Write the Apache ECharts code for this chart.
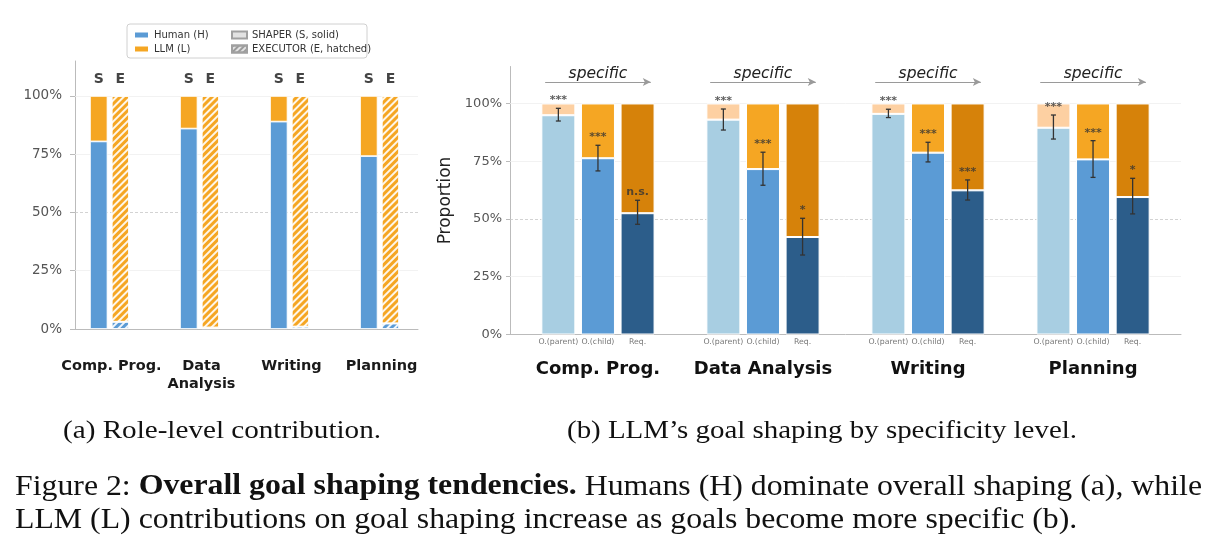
<!DOCTYPE html>
<html><head><meta charset="utf-8">
<script src="https://cdn.jsdelivr.net/npm/echarts@6/dist/echarts.min.js"></script>
<style>html,body{margin:0;padding:0;background:#fff}#c{width:1219px;height:552px}</style>
</head><body><div id="c"></div>
<script>
// ---------- (a) Role-level contribution ----------
const taskCategoriesA = ['Comp. Prog.', 'Data\nAnalysis', 'Writing', 'Planning'];
const roleTags = ['S', 'E'];
const humanShaper   = [80.5, 86.0, 89.0, 74.2];
const llmShaper     = [19.5, 14.0, 11.0, 25.8];
const humanExecutor = [3.1, 0.6, 1.0, 2.4];
const llmExecutor   = [96.9, 99.4, 99.0, 97.6];
const pctTicks = [0, 25, 50, 75, 100];

// ---------- (b) Goal shaping by specificity ----------
const taskCategoriesB = ['Comp. Prog.', 'Data Analysis', 'Writing', 'Planning'];
const levels = ['O.(parent)', 'O.(child)', 'Req.'];
const humanParent = [94.9, 93.0, 95.5, 89.5];
const humanChild  = [76.3, 71.6, 78.7, 75.8];
const humanReq    = [52.5, 42.2, 62.4, 59.5];
const llmParent = [5.1, 7.0, 4.5, 10.5];
const llmChild  = [23.7, 28.4, 21.3, 24.2];
const llmReq    = [47.5, 57.8, 37.6, 40.5];
const errLowParent  = [92.4, 88.5, 93.9, 84.6];
const errHighParent = [97.9, 97.6, 97.5, 95.0];
const errLowChild   = [70.8, 64.6, 74.7, 68.0];
const errHighChild  = [81.9, 78.9, 83.2, 83.9];
const errLowReq     = [47.7, 34.4, 58.2, 52.2];
const errHighReq    = [58.1, 50.3, 66.9, 67.6];
const sigParent = ['***', '***', '***', '***'];
const sigChild  = ['***', '***', '***', '***'];
const sigReq    = ['n.s.', '*', '***', '*'];

// ---------- styles / layout ----------
const FONT = 'DejaVu Sans';
const colH = '#5b9bd5', colL = '#f5a623';
const levelHumanColors = ['#a8cee2', '#5b9bd5', '#2c5d8a'];
const levelLlmColors   = ['#fdd0a2', '#f5a623', '#d6820a'];
const roleOffsets = [-0.12, 0.12];
const levelOffsets = [-0.24, 0, 0.24];
const hatch = { symbol: 'rect', symbolSize: 1, dashArrayX: [1, 0], dashArrayY: [1.6, 2.6], rotation: -Math.PI / 4, color: 'rgba(255,255,255,0.9)' };
const hatchLegend = { symbol: 'rect', symbolSize: 1, dashArrayX: [1, 0], dashArrayY: [1.4, 2], rotation: -Math.PI / 4, color: '#9a9a9a' };

// build (a) data  -- items are [value, position] (encode y:0, x:1)
const aHuman = [], aLlm = [];
taskCategoriesA.forEach((c, i) => {
  aHuman.push({ value: [humanShaper[i], i + roleOffsets[0]] });
  aHuman.push({ value: [humanExecutor[i], i + roleOffsets[1]], itemStyle: { decal: hatch } });
  aLlm.push({ value: [llmShaper[i], i + roleOffsets[0]] });
  aLlm.push({ value: [llmExecutor[i], i + roleOffsets[1]], itemStyle: { decal: hatch } });
});

// build (b) data
const hum = [humanParent, humanChild, humanReq];
const llm = [llmParent, llmChild, llmReq];
const lo = [errLowParent, errLowChild, errLowReq];
const hi = [errHighParent, errHighChild, errHighReq];
const sg = [sigParent, sigChild, sigReq];
const bHuman = [], bLlm = [], bErr = [], bSig = [], sigText = [], subPos = [];
taskCategoriesB.forEach((c, i) => {
  levels.forEach((l, k) => {
    const x = i + levelOffsets[k];
    subPos.push(x);
    bHuman.push({ value: [hum[k][i], x], itemStyle: { color: levelHumanColors[k] } });
    bLlm.push({ value: [llm[k][i], x], itemStyle: { color: levelLlmColors[k] } });
    bErr.push([x, lo[k][i], hi[k][i]]);
    bSig.push([x, hi[k][i]]);
    sigText.push(sg[k][i]);
  });
});

function gridLines(list) {
  return list.map(v => ({ yAxis: v, lineStyle: v === 50 ? { color: '#c8c8c8', type: [3, 2], width: 0.8 } : { color: '#efefef', type: 'solid', width: 0.8 } }));
}
const arrowLines = taskCategoriesB.map((c, i) => [
  { coord: [i - 0.32, 109.3], symbol: 'none', label: { show: true, formatter: 'specific', position: 'insideMiddleTop', distance: 0, fontFamily: FONT, fontStyle: 'italic', fontSize: 15.5, color: '#222' }, lineStyle: { color: '#9a9a9a', width: 1.2, type: 'solid' } },
  { coord: [i + 0.32, 109.3], symbol: 'arrow', symbolSize: [6, 8] }
]);

const chart = echarts.init(document.getElementById('c'), null, { renderer: 'canvas' });

// caption helpers
const mctx = document.createElement('canvas').getContext('2d');
function measure(parts, size) {
  let w = 0;
  parts.forEach(p => { mctx.font = (p[1] === 'b' ? 'bold ' : '') + size + 'px "Liberation Serif"'; w += mctx.measureText(p[0]).width; });
  return w;
}
const capSize = 25, figSize = 29;
const capA = [['(a) Role-level contribution.', 'n']];
const capB = [['(b) LLM\u2019s goal shaping by specificity level.', 'n']];
const fig1 = [['Figure 2: ', 'n'], ['Overall goal shaping tendencies.', 'b'], [' Humans ', 'n'], ['(H)', 'h'], [' dominate overall shaping (a), while', 'n']];
const fig2 = [['LLM ', 'n'], ['(L)', 'l'], [' contributions on goal shaping increase as goals become more specific (b).', 'n']];
const richText = parts => parts.map(p => '{' + p[1] + '|' + p[0] + '}').join('');
const figScale = 1187 / measure(fig1, figSize);
const rich = s => ({
  n: { fontFamily: 'Liberation Serif', fontSize: s, color: '#111' },
  b: { fontFamily: 'Liberation Serif', fontSize: s, fontWeight: 'bold', color: '#111' },
  h: { fontFamily: 'Liberation Serif', fontSize: s, color: '#2a7ab8' },
  l: { fontFamily: 'Liberation Serif', fontSize: s, color: '#f0843c' }
});
function capText(parts, size, x, y, scale) {
  return { type: 'text', x: x, y: y, scaleX: scale, style: { text: richText(parts), rich: rich(size), fontFamily: 'Liberation Serif', fontSize: size, align: 'left', verticalAlign: 'middle', fill: '#111' } };
}

const option = {
  animation: false,
  backgroundColor: '#fff',
  textStyle: { fontFamily: FONT },
  grid: [
    { left: 75, top: 61, width: 343, height: 268 },
    { left: 510, top: 66.5, width: 671, height: 268 }
  ],
  legend: [
    { data: ['Human (H)', 'LLM (L)'], orient: 'vertical', left: 128, top: 25, icon: 'rect', itemWidth: 15, itemHeight: 7, itemGap: 4, textStyle: { fontFamily: FONT, fontSize: 10, color: '#333' }, selectedMode: false },
    { data: ['SHAPER (S, solid)', 'EXECUTOR (E, hatched)'], orient: 'vertical', left: 226, top: 25, icon: 'rect', itemWidth: 15, itemHeight: 7, itemGap: 4, textStyle: { fontFamily: FONT, fontSize: 10, color: '#333' }, selectedMode: false }
  ],
  graphic: [
    { type: 'rect', z: 0, shape: { x: 127, y: 24, width: 240, height: 34, r: 3 }, style: { fill: '#fff', stroke: '#d0d0d0', lineWidth: 1 } },
    capText(capA, capSize, 63, 431, 318 / measure(capA, capSize)),
    capText(capB, capSize, 567, 431, 510 / measure(capB, capSize)),
    capText(fig1, figSize, 15, 487, figScale),
    capText(fig2, figSize, 15, 520, figScale)
  ],
  xAxis: [
    { type: 'value', gridIndex: 0, position: 'bottom', min: -0.405, max: 3.405, splitLine: { show: false },
      axisLine: { show: true, onZero: false, lineStyle: { color: '#bbb' } }, axisTick: { show: false },
      axisLabel: { customValues: [0, 1, 2, 3], formatter: v => taskCategoriesA[Math.round(v)], fontFamily: FONT, fontSize: 14.5, fontWeight: 'bold', color: '#1a1a1a', margin: 28, lineHeight: 18 } },
    { type: 'value', gridIndex: 1, position: 'bottom', min: -0.533, max: 3.533, splitLine: { show: false },
      axisLine: { show: true, onZero: false, lineStyle: { color: '#bbb' } }, axisTick: { show: false },
      axisLabel: { customValues: subPos, formatter: v => levels[Math.round((v - Math.round(v)) / 0.24) + 1], fontFamily: FONT, fontSize: 7.8, color: '#777', margin: 3 } },
    { type: 'value', gridIndex: 1, position: 'bottom', min: -0.533, max: 3.533, splitLine: { show: false },
      axisLine: { show: false, onZero: false }, axisTick: { show: false },
      axisLabel: { customValues: [0, 1, 2, 3], formatter: v => taskCategoriesB[Math.round(v)], fontFamily: FONT, fontSize: 18, fontWeight: 'bold', color: '#111', margin: 26 } }
  ],
  yAxis: [
    { type: 'value', gridIndex: 0, min: 0, max: 115, splitLine: { show: false },
      axisLine: { show: true, onZero: false, lineStyle: { color: '#bbb' } },
      axisTick: { show: true, customValues: pctTicks, length: 5, lineStyle: { color: '#bbb' } },
      axisLabel: { customValues: pctTicks, formatter: v => v + '%', fontFamily: FONT, fontSize: 13.5, color: '#555', margin: 13 } },
    { type: 'value', gridIndex: 1, min: 0, max: 116, splitLine: { show: false },
      name: 'Proportion', nameLocation: 'middle', nameGap: 46, nameTextStyle: { fontFamily: FONT, fontSize: 17, color: '#222' },
      axisLine: { show: true, onZero: false, lineStyle: { color: '#bbb' } },
      axisTick: { show: true, customValues: pctTicks, length: 4, lineStyle: { color: '#bbb' } },
      axisLabel: { customValues: pctTicks, formatter: v => v + '%', fontFamily: FONT, fontSize: 13, color: '#555', margin: 8 } }
  ],
  series: [
    { name: 'Human (H)', type: 'bar', xAxisIndex: 0, yAxisIndex: 0, stack: 'a', barWidth: 17.5, data: aHuman, encode: { x: 1, y: 0 },
      itemStyle: { color: colH, borderColor: '#fff', borderWidth: 0.8 },
      markLine: { silent: true, z: 1, symbol: ['none', 'none'], label: { show: false }, data: gridLines([25, 50, 75, 100]) } },
    { name: 'LLM (L)', type: 'bar', xAxisIndex: 0, yAxisIndex: 0, stack: 'a', barWidth: 17.5, data: aLlm, encode: { x: 1, y: 0 },
      itemStyle: { color: colL, borderColor: '#fff', borderWidth: 0.8 },
      label: { show: true, position: 'top', distance: 10, formatter: p => roleTags[p.dataIndex % 2], fontFamily: FONT, fontSize: 14, fontWeight: 'bold', color: '#444' } },
    { name: 'SHAPER (S, solid)', type: 'bar', xAxisIndex: 0, yAxisIndex: 0, data: [], itemStyle: { color: '#e2e2e2', borderColor: '#a0a0a0', borderWidth: 0.6 } },
    { name: 'EXECUTOR (E, hatched)', type: 'bar', xAxisIndex: 0, yAxisIndex: 0, data: [], itemStyle: { color: '#e2e2e2', borderColor: '#a0a0a0', borderWidth: 0.6, decal: hatchLegend } },

    { name: 'bHuman', type: 'bar', xAxisIndex: 1, yAxisIndex: 1, stack: 'b', barWidth: 34, data: bHuman, encode: { x: 1, y: 0 },
      itemStyle: { borderColor: '#fff', borderWidth: 1 },
      markLine: { silent: true, z: 1, symbol: ['none', 'none'], label: { show: false }, data: gridLines([25, 50, 75, 100]).concat(arrowLines) } },
    { name: 'bLlm', type: 'bar', xAxisIndex: 1, yAxisIndex: 1, stack: 'b', barWidth: 34, data: bLlm, encode: { x: 1, y: 0 },
      itemStyle: { borderColor: '#fff', borderWidth: 1 } },
    { name: 'err', type: 'custom', xAxisIndex: 1, yAxisIndex: 1, z: 10, data: bErr, encode: { x: 0, y: [1, 2] },
      renderItem: (params, api) => {
        const x = api.value(0);
        const p1 = api.coord([x, api.value(1)]), p2 = api.coord([x, api.value(2)]);
        const st = { stroke: '#333', lineWidth: 1.3 };
        return { type: 'group', children: [
          { type: 'line', shape: { x1: p1[0], y1: p1[1], x2: p2[0], y2: p2[1] }, style: st },
          { type: 'line', shape: { x1: p1[0] - 2.5, y1: p1[1], x2: p1[0] + 2.5, y2: p1[1] }, style: st },
          { type: 'line', shape: { x1: p2[0] - 2.5, y1: p2[1], x2: p2[0] + 2.5, y2: p2[1] }, style: st }
        ] };
      } },
    { name: 'sig', type: 'scatter', xAxisIndex: 1, yAxisIndex: 1, z: 11, data: bSig, symbolSize: 1, itemStyle: { color: 'rgba(0,0,0,0)' },
      label: { show: true, position: 'top', distance: 2, formatter: p => sigText[p.dataIndex], fontFamily: FONT, fontSize: 11, fontWeight: 'bold', color: '#333' } }
  ]
};
chart.setOption(option);
</script>
</body></html>
